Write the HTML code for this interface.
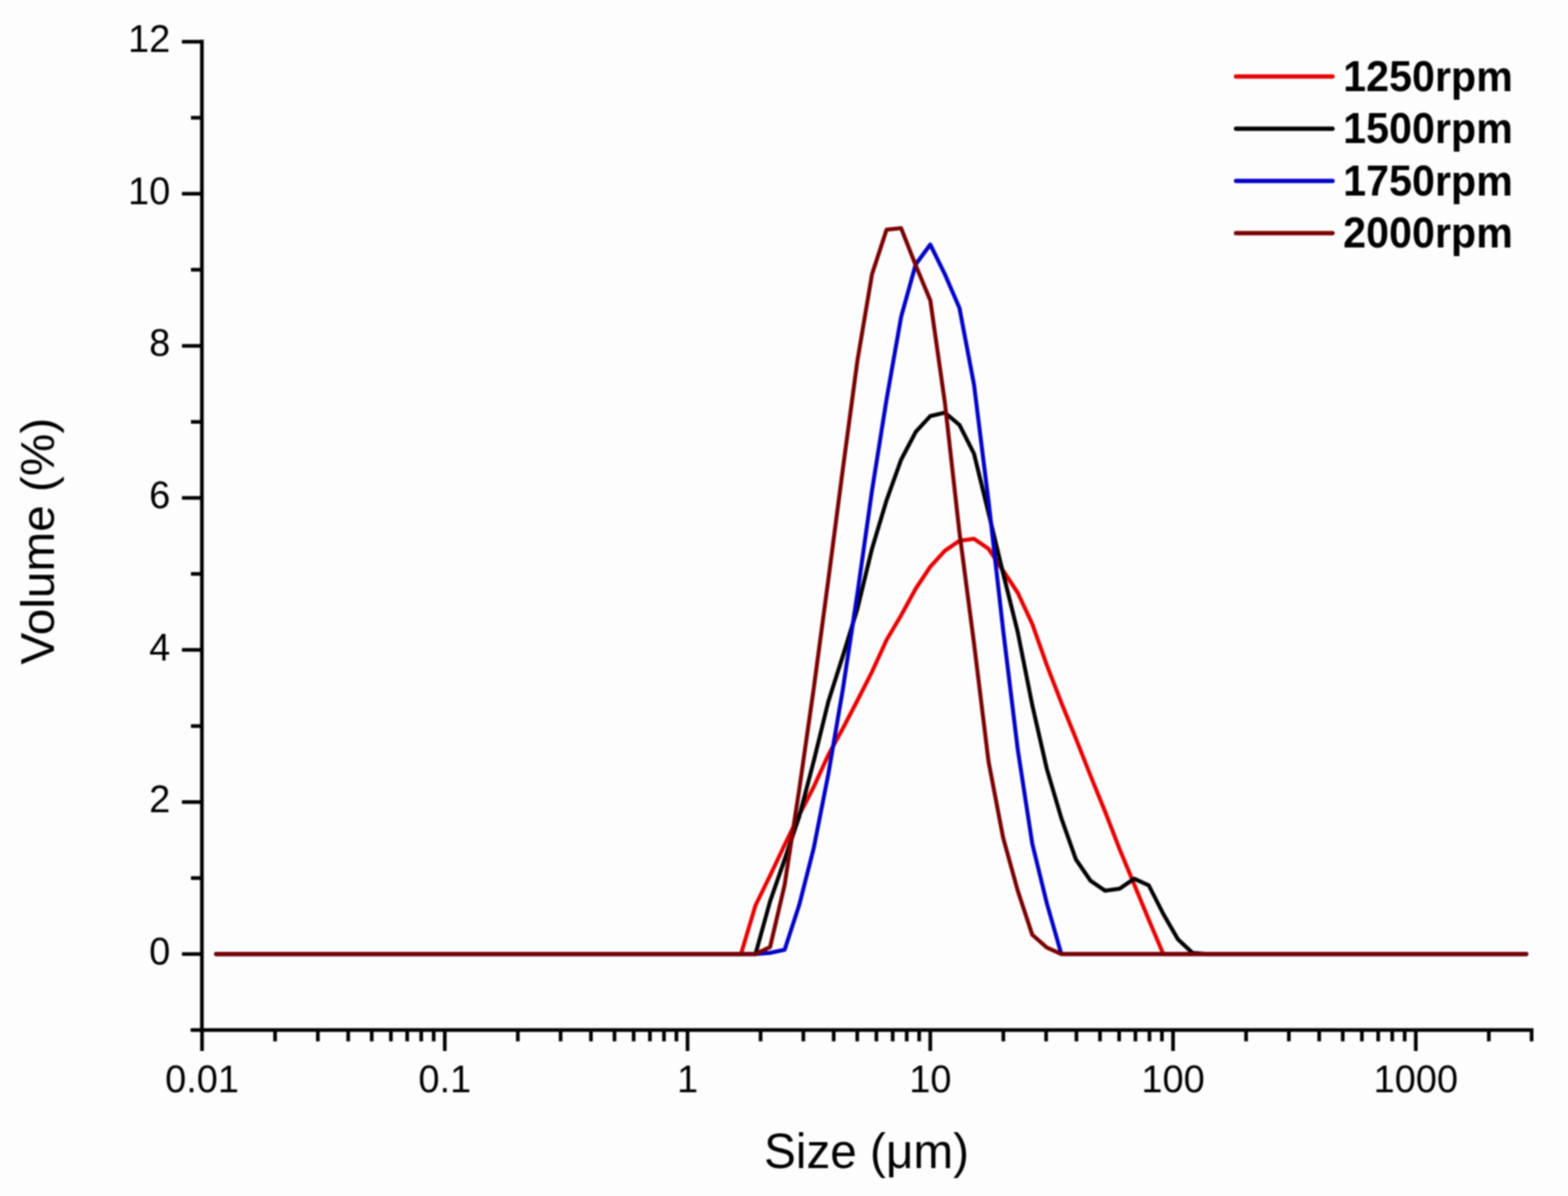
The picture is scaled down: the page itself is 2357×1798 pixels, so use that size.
<!DOCTYPE html>
<html><head><meta charset="utf-8"><title>Particle size distribution</title>
<style>
html,body{margin:0;padding:0;background:#fdfdfd;}
svg{display:block;filter:blur(1px);}
text{font-family:"Liberation Sans",Arial,sans-serif;fill:#000;}
</style></head><body>
<svg width="2357" height="1798" viewBox="0 0 2357 1798">
<rect x="0" y="0" width="2357" height="1798" fill="#fdfdfd"/>
<path d="M303.5 59.8 V1551.3 M286.5 1548.6 H2305.1 M287.0 1548.6 H303.5 M273.5 1434.3 H303.5 M287.0 1320.0 H303.5 M273.5 1205.7 H303.5 M287.0 1091.4 H303.5 M273.5 977.1 H303.5 M287.0 862.8 H303.5 M273.5 748.5 H303.5 M287.0 634.2 H303.5 M273.5 519.9 H303.5 M287.0 405.6 H303.5 M273.5 291.3 H303.5 M287.0 177.0 H303.5 M273.5 62.7 H303.5 M303.7 1548.6 V1580.0 M413.5 1548.6 V1565.5 M477.8 1548.6 V1565.5 M523.4 1548.6 V1565.5 M558.8 1548.6 V1565.5 M587.6 1548.6 V1565.5 M612.1 1548.6 V1565.5 M633.2 1548.6 V1565.5 M651.9 1548.6 V1565.5 M668.6 1548.6 V1580.0 M778.4 1548.6 V1565.5 M842.7 1548.6 V1565.5 M888.3 1548.6 V1565.5 M923.7 1548.6 V1565.5 M952.5 1548.6 V1565.5 M977.0 1548.6 V1565.5 M998.1 1548.6 V1565.5 M1016.8 1548.6 V1565.5 M1033.5 1548.6 V1580.0 M1143.3 1548.6 V1565.5 M1207.6 1548.6 V1565.5 M1253.2 1548.6 V1565.5 M1288.6 1548.6 V1565.5 M1317.4 1548.6 V1565.5 M1341.9 1548.6 V1565.5 M1363.0 1548.6 V1565.5 M1381.7 1548.6 V1565.5 M1398.4 1548.6 V1580.0 M1508.2 1548.6 V1565.5 M1572.5 1548.6 V1565.5 M1618.1 1548.6 V1565.5 M1653.5 1548.6 V1565.5 M1682.3 1548.6 V1565.5 M1706.8 1548.6 V1565.5 M1727.9 1548.6 V1565.5 M1746.6 1548.6 V1565.5 M1763.3 1548.6 V1580.0 M1873.1 1548.6 V1565.5 M1937.4 1548.6 V1565.5 M1983.0 1548.6 V1565.5 M2018.4 1548.6 V1565.5 M2047.2 1548.6 V1565.5 M2071.7 1548.6 V1565.5 M2092.8 1548.6 V1565.5 M2111.5 1548.6 V1565.5 M2128.2 1548.6 V1580.0 M2238.0 1548.6 V1565.5 M2302.3 1548.6 V1565.5" stroke="#000" stroke-width="5.5" fill="none" stroke-linecap="butt"/>
<text transform="translate(256 1449.8) scale(1 1.02)" font-size="57" text-anchor="end">0</text>
<text transform="translate(256 1221.2) scale(1 1.02)" font-size="57" text-anchor="end">2</text>
<text transform="translate(256 992.6) scale(1 1.02)" font-size="57" text-anchor="end">4</text>
<text transform="translate(256 764.0) scale(1 1.02)" font-size="57" text-anchor="end">6</text>
<text transform="translate(256 535.4) scale(1 1.02)" font-size="57" text-anchor="end">8</text>
<text transform="translate(256 306.8) scale(1 1.02)" font-size="57" text-anchor="end">10</text>
<text transform="translate(256 78.2) scale(1 1.02)" font-size="57" text-anchor="end">12</text>
<text transform="translate(303.7 1642) scale(1 1.02)" font-size="57" text-anchor="middle">0.01</text>
<text transform="translate(668.6 1642) scale(1 1.02)" font-size="57" text-anchor="middle">0.1</text>
<text transform="translate(1033.5 1642) scale(1 1.02)" font-size="57" text-anchor="middle">1</text>
<text transform="translate(1398.4 1642) scale(1 1.02)" font-size="57" text-anchor="middle">10</text>
<text transform="translate(1763.3 1642) scale(1 1.02)" font-size="57" text-anchor="middle">100</text>
<text transform="translate(2128.2 1642) scale(1 1.02)" font-size="57" text-anchor="middle">1000</text>
<text transform="translate(1302.5 1755.5) scale(1.01 1.05)" font-size="71" text-anchor="middle">Size (μm)</text>
<text transform="translate(81 813.5) rotate(-90) scale(1.025 1)" x="0" y="0" font-size="70" text-anchor="middle">Volume (%)</text>
<path d="M324.8 1434.3 L1113.8 1434.3 L1135.7 1361.0 L1157.6 1316.2 L1179.5 1270.0 L1201.4 1225.0 L1223.2 1183.0 L1245.1 1135.0 L1267.0 1095.0 L1288.9 1053.0 L1310.8 1010.0 L1332.7 962.0 L1354.6 925.0 L1376.5 885.0 L1398.4 852.0 L1420.3 828.0 L1442.2 813.0 L1464.1 810.0 L1486.0 825.0 L1507.9 858.0 L1529.8 891.0 L1551.7 938.0 L1573.6 1000.0 L1595.4 1056.3 L1617.3 1110.4 L1639.2 1166.0 L1661.1 1220.0 L1683.0 1276.6 L1704.9 1329.6 L1726.8 1382.6 L1748.7 1434.3 L2294.3 1434.3" stroke="#e80000" stroke-width="6" fill="none" stroke-linejoin="round" stroke-linecap="round"/>
<path d="M324.8 1434.3 L1135.7 1434.3 L1157.6 1355.0 L1179.5 1292.0 L1201.4 1227.5 L1223.2 1144.2 L1245.1 1054.9 L1267.0 986.0 L1288.9 915.0 L1310.8 824.8 L1332.7 752.0 L1354.6 691.0 L1376.5 649.3 L1398.4 625.5 L1420.3 620.3 L1442.2 638.7 L1464.1 682.0 L1486.0 771.3 L1507.9 862.0 L1529.8 950.0 L1551.7 1060.0 L1573.6 1156.0 L1595.4 1230.0 L1617.3 1292.0 L1639.2 1324.0 L1661.1 1339.0 L1683.0 1336.0 L1704.9 1321.0 L1726.8 1331.0 L1748.7 1374.0 L1770.6 1412.0 L1792.5 1432.5 L1814.4 1434.3 L2294.3 1434.3" stroke="#000000" stroke-width="6" fill="none" stroke-linejoin="round" stroke-linecap="round"/>
<path d="M324.8 1434.3 L1135.7 1434.3 L1157.6 1432.5 L1179.5 1427.8 L1201.4 1360.4 L1223.2 1275.0 L1245.1 1164.0 L1267.0 1036.0 L1288.9 892.0 L1310.8 737.3 L1332.7 600.3 L1354.6 476.2 L1376.5 397.4 L1398.4 367.6 L1420.3 412.3 L1442.2 462.9 L1464.1 578.0 L1486.0 753.8 L1507.9 947.0 L1529.8 1126.0 L1551.7 1268.4 L1573.6 1358.0 L1595.4 1434.3 L2294.3 1434.3" stroke="#0000c8" stroke-width="6" fill="none" stroke-linejoin="round" stroke-linecap="round"/>
<path d="M324.8 1434.3 L1135.7 1434.3 L1157.6 1423.7 L1179.5 1330.0 L1201.4 1186.9 L1223.2 1035.0 L1245.1 871.8 L1267.0 704.9 L1288.9 541.9 L1310.8 412.3 L1332.7 345.3 L1354.6 343.1 L1376.5 398.9 L1398.4 451.5 L1420.3 605.0 L1442.2 800.0 L1464.1 967.0 L1486.0 1145.0 L1507.9 1259.4 L1529.8 1338.8 L1551.7 1405.3 L1573.6 1424.5 L1595.4 1434.3 L2294.3 1434.3" stroke="#7a0000" stroke-width="6" fill="none" stroke-linejoin="round" stroke-linecap="round"/>
<path d="M1858 115.0 H2003" stroke="#e80000" stroke-width="6.5" stroke-linecap="round"/>
<text transform="translate(2019 136.5) scale(1 1.055)" font-size="62" font-weight="bold">1250rpm</text>
<path d="M1858 193.5 H2003" stroke="#000000" stroke-width="6.5" stroke-linecap="round"/>
<text transform="translate(2019 215.0) scale(1 1.055)" font-size="62" font-weight="bold">1500rpm</text>
<path d="M1858 272.0 H2003" stroke="#0000c8" stroke-width="6.5" stroke-linecap="round"/>
<text transform="translate(2019 293.5) scale(1 1.055)" font-size="62" font-weight="bold">1750rpm</text>
<path d="M1858 350.5 H2003" stroke="#7a0000" stroke-width="6.5" stroke-linecap="round"/>
<text transform="translate(2019 372.0) scale(1 1.055)" font-size="62" font-weight="bold">2000rpm</text>
</svg>
</body></html>
